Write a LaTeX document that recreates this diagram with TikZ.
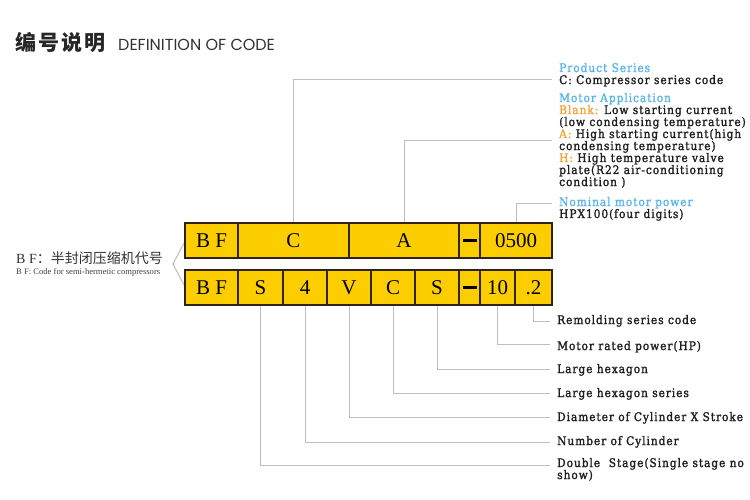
\documentclass[tikz,border=0pt]{standalone}
\usepackage{fontspec}
\setmainfont{Liberation Serif}
\newfontfamily\cjk{Noto Sans CJK SC}
\newfontfamily\cjktitle[LetterSpace=10]{Noto Sans CJK SC}
\newfontfamily\labfont[LetterSpace=8,FakeBold=1.6]{DejaVu Serif Condensed}
\newfontfamily\ttlfont{Poppins}
\definecolor{cellyellow}{HTML}{FCCE00}
\definecolor{cellborder}{HTML}{2E2410}
\definecolor{connc}{HTML}{BEBEBE}
\definecolor{headblue}{HTML}{5AB6E6}
\definecolor{keyorange}{HTML}{F2A33A}
\definecolor{labtext}{HTML}{1E1E1E}
\begin{document}
\begin{tikzpicture}[x=1pt,y=-1pt,
  cell/.style={draw=cellborder, fill=cellyellow, line width=1.3pt, minimum height=35pt,
    inner sep=0pt, font=\fontsize{21}{21}\selectfont, text=black},
  conn/.style={draw=connc, line width=1pt},
  lab/.style={anchor=base west, inner sep=0pt, text=labtext, font=\labfont\fontsize{11.8}{12}\selectfont},
  head/.style={lab, text=headblue},
  key/.style={text=keyorange}
]
\useasboundingbox (0,0) rectangle (750,500);
% title
\node[anchor=west, inner sep=0pt, text=black!85, font=\cjktitle\bfseries\fontsize{21}{21}\selectfont] (ttlcn) at (15,43) {编号说明};
\node[anchor=west, inner sep=0pt, text=black!80, font=\ttlfont\fontsize{16}{16}\selectfont] (ttlen) at (118,45) {DEFINITION OF CODE};
% left explanation
\node[anchor=west, inner sep=0pt, text=black!80, font=\fontsize{14}{14}\selectfont] (bfcn) at (16,258) {B F\cjk：半封闭压缩机代号};
\node[anchor=west, inner sep=0pt, text=black!75, font=\fontsize{8.6}{9}\selectfont] (bfen) at (16,272) {B F: Code for semi-hermetic compressors};
\coordinate (brA) at (184,243);
\coordinate (brM) at (173,264);
\coordinate (brB) at (184,285);
\draw[conn] (brA) -- (brM) -- (brB);
% top row
\node[cell, minimum width=53pt] (tBF) at (211.5,240.5) {B F};
\node[cell, minimum width=111pt] (tC) at (293.5,240.5) {C};
\node[cell, minimum width=110pt] (tA) at (404,240.5) {A};
\node[cell, minimum width=21pt] (tD) at (469.5,240.5) {};
\node[cell, minimum width=72pt] (t05) at (516,240.5) {0500};
\draw[line width=3pt, black] ([xshift=-7pt]tD.center) -- ([xshift=7pt]tD.center);
% bottom row
\node[cell, minimum width=53pt] (bBF) at (211.5,287.5) {B F};
\node[cell, minimum width=45pt] (bS) at (260.5,287.5) {S};
\node[cell, minimum width=44pt] (b4) at (305,287.5) {4};
\node[cell, minimum width=44pt] (bV) at (349,287.5) {V};
\node[cell, minimum width=44pt] (bC) at (393,287.5) {C};
\node[cell, minimum width=44pt] (bS2) at (437,287.5) {S};
\node[cell, minimum width=21pt] (bD) at (469.5,287.5) {};
\node[cell, minimum width=35pt] (b10) at (497.5,287.5) {10};
\node[cell, minimum width=37pt] (b2) at (533.5,287.5) {.2};
\draw[line width=3pt, black] ([xshift=-7pt]bD.center) -- ([xshift=7pt]bD.center);
% top labels
\node[head] (l1) at (559,72) {Product Series};
\node[lab] (l2) at (559,84) {C: Compressor series code};
\node[head] (l3) at (559,102) {Motor Application};
\node[lab] (l4) at (559,114) {\textcolor{keyorange}{Blank:} Low starting current};
\node[lab] (l5) at (559,126) {(low condensing temperature)};
\node[lab] (l6) at (559,138) {\textcolor{keyorange}{A:} High starting current(high};
\node[lab] (l7) at (559,150) {condensing temperature)};
\node[lab] (l8) at (559,162) {\textcolor{keyorange}{H:} High temperature valve};
\node[lab] (l9) at (559,174) {plate(R22 air-conditioning};
\node[lab] (l10) at (559,186) {condition )};
\node[head] (l11) at (559,206) {Nominal motor power};
\node[lab] (l12) at (559,218) {HPX100(four digits)};
\coordinate (eC) at (552,80);
\coordinate (eA) at (552,141);
\coordinate (e05) at (552,203);
\draw[conn] (tC.north) |- (eC);
\draw[conn] (tA.north) |- (eA);
\draw[conn] (t05.north) |- (e05);
% bottom labels
\node[lab] (m1) at (557,324) {Remolding series code};
\node[lab] (m2) at (557,350) {Motor rated power(HP)};
\node[lab] (m3) at (557,373) {Large hexagon};
\node[lab] (m4) at (557,397) {Large hexagon series};
\node[lab] (m5) at (557,421) {Diameter of Cylinder X Stroke};
\node[lab] (m6) at (557,445) {Number of Cylinder};
\node[lab] (m7) at (557,467) {Double\ \ Stage(Single stage no};
\node[lab] (m8) at (557,479) {show)};
\coordinate (f1) at (550,321);
\coordinate (f2) at (550,344);
\coordinate (f3) at (550,369);
\coordinate (f4) at (550,393);
\coordinate (f5) at (550,417);
\coordinate (f6) at (550,442);
\coordinate (f7) at (550,465);
\draw[conn] (b2.south) |- (f1);
\draw[conn] (b10.south) |- (f2);
\draw[conn] (bS2.south) |- (f3);
\draw[conn] (bC.south) |- (f4);
\draw[conn] (bV.south) |- (f5);
\draw[conn] (b4.south) |- (f6);
\draw[conn] (bS.south) |- (f7);
\end{tikzpicture}
\end{document}
